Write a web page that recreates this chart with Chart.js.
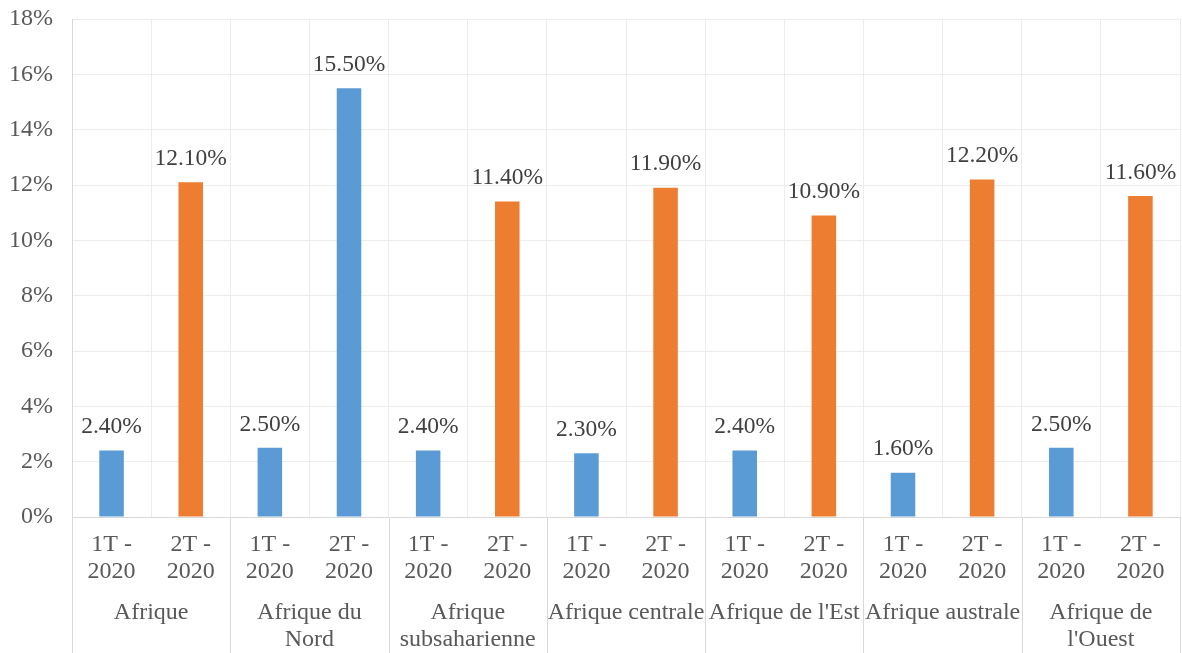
<!DOCTYPE html>
<html><head><meta charset="utf-8">
<script src="https://cdn.jsdelivr.net/npm/chart.js@4.4.0/dist/chart.umd.min.js"></script>
<style>html,body{margin:0;padding:0;background:#fff}#wrap{width:1182px;height:653px}</style>
</head><body><div id="wrap"><canvas id="c" width="1182" height="653"></canvas></div>
<script>
const periods = [["1T -","2020"],["2T -","2020"],["1T -","2020"],["2T -","2020"],["1T -","2020"],["2T -","2020"],["1T -","2020"],["2T -","2020"],["1T -","2020"],["2T -","2020"],["1T -","2020"],["2T -","2020"],["1T -","2020"],["2T -","2020"]];
const regions = [["Afrique"],["Afrique du","Nord"],["Afrique","subsaharienne"],["Afrique centrale"],["Afrique de l'Est"],["Afrique australe"],["Afrique de","l'Ouest"]];
const values = [2.4, 12.1, 2.5, 15.5, 2.4, 11.4, 2.3, 11.9, 2.4, 10.9, 1.6, 12.2, 2.5, 11.6];
const barColors = ["#5B9BD5","#ED7D31","#5B9BD5","#5B9BD5","#5B9BD5","#ED7D31","#5B9BD5","#ED7D31","#5B9BD5","#ED7D31","#5B9BD5","#ED7D31","#5B9BD5","#ED7D31"];
const yTicks = [0,2,4,6,8,10,12,14,16,18];

const FONT = "'Liberation Serif','Times New Roman',serif";
const TXT = "#595959";

const extras = {
  id: 'extras',
  afterDatasetsDraw(chart) {
    const ctx = chart.ctx;
    const meta = chart.getDatasetMeta(0);
    ctx.save();
    ctx.font = "23.5px " + FONT;
    ctx.fillStyle = "#404040";
    ctx.textAlign = "center";
    ctx.textBaseline = "middle";
    meta.data.forEach((bar, i) => {
      ctx.fillText(values[i].toFixed(2) + "%", bar.x, bar.y - 23.5);
    });
    ctx.restore();
  },
  afterDraw(chart) {
    const ctx = chart.ctx;
    const xs = chart.scales.x;
    const area = chart.chartArea;
    const half = (xs.getPixelForValue(1) - xs.getPixelForValue(0)) / 2;
    ctx.save();
    ctx.strokeStyle = "#d9d9d9";
    ctx.lineWidth = 1;
    for (let g = 0; g <= regions.length; g++) {
      const px = Math.round(xs.getPixelForValue(g * 2) - half) + 0.5;
      ctx.beginPath();
      ctx.moveTo(px, area.bottom);
      ctx.lineTo(px, chart.height);
      ctx.stroke();
    }
    ctx.font = "24px " + FONT;
    ctx.fillStyle = TXT;
    ctx.textAlign = "center";
    ctx.textBaseline = "middle";
    regions.forEach((lines, g) => {
      const cx = (xs.getPixelForValue(g * 2) + xs.getPixelForValue(g * 2 + 1)) / 2;
      lines.forEach((t, k) => ctx.fillText(t, cx, 613 + k * 27));
    });
    ctx.restore();
  }
};

new Chart(document.getElementById('c'), {
  type: 'bar',
  data: {
    labels: periods,
    datasets: [{ data: values, backgroundColor: barColors, barPercentage: 0.31, categoryPercentage: 1 }]
  },
  options: {
    responsive: false,
    animation: false,
    events: [],
    layout: { padding: { top: 0, right: 2, left: 0, bottom: 0 } },
    plugins: { legend: { display: false }, tooltip: { enabled: false } },
    scales: {
      x: {
        grid: { color: "#ececec", drawTicks: false, offset: true },
        border: { color: "#d9d9d9" },
        ticks: { color: TXT, font: { family: FONT, size: 24, lineHeight: 1.125 }, padding: 14, maxRotation: 0, autoSkip: false },
        afterFit(s) { s.height = 136; s.paddingLeft = 0; s.paddingRight = 0; }
      },
      y: {
        min: 0, max: 18,
        afterBuildTicks(s) { s.ticks = yTicks.map(v => ({ value: v })); },
        grid: { color: "#ececec", drawTicks: false },
        border: { color: "#d9d9d9" },
        ticks: { color: TXT, font: { family: FONT, size: 24 }, padding: 19, callback: v => v + "%" },
        afterFit(s) { s.width = 72; s.paddingTop = 19; s.paddingBottom = 0; }
      }
    }
  },
  plugins: [extras]
});
</script></body></html>
